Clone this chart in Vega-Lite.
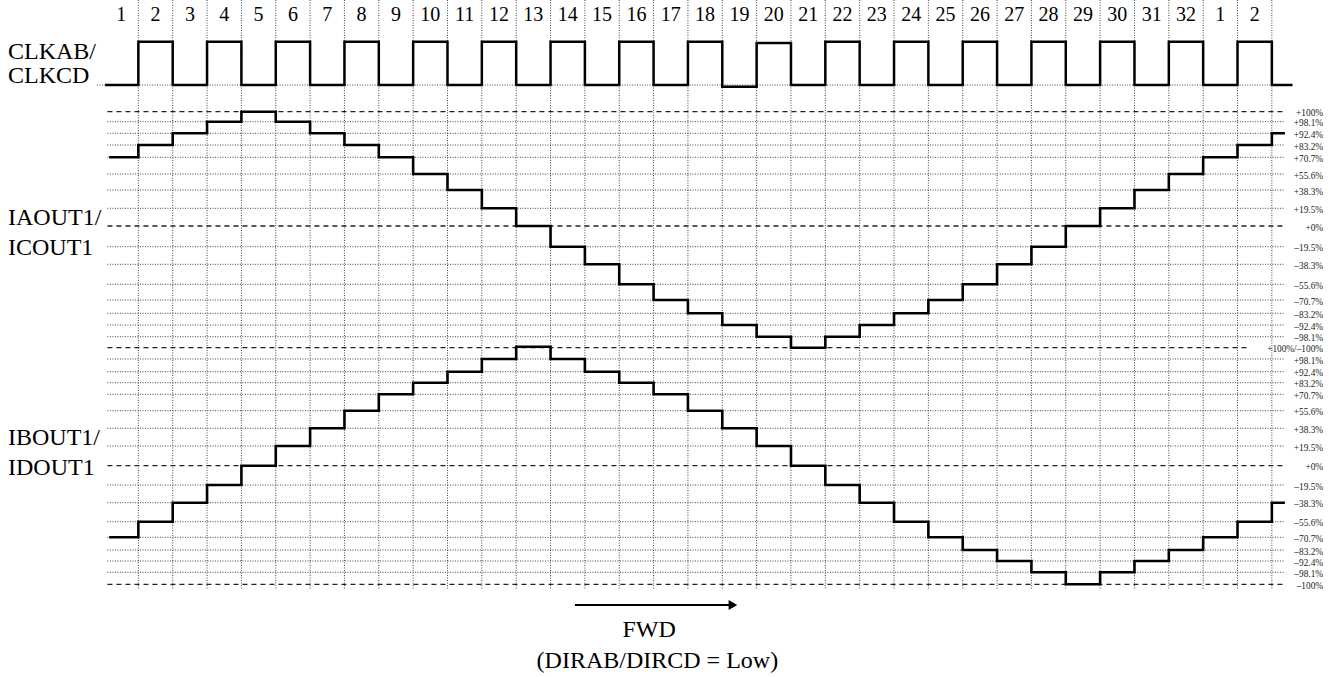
{
  "$schema": "https://vega.github.io/schema/vega-lite/v6.json",
  "width": 1333,
  "height": 590,
  "autosize": {"type": "none"},
  "padding": {"left": 0, "top": 0, "right": 0, "bottom": 87},
  "background": "white",
  "config": {"view": {"stroke": null}, "font": "Liberation Serif", "text": {"font": "Liberation Serif", "color": "black"}},
  "datasets": {
    "clock": [
      {"t": 0.03, "clk": 0}, {"t": 1, "clk": 1}, {"t": 2, "clk": 0}, {"t": 3, "clk": 1}, {"t": 4, "clk": 0},
      {"t": 5, "clk": 1}, {"t": 6, "clk": 0}, {"t": 7, "clk": 1}, {"t": 8, "clk": 0}, {"t": 9, "clk": 1},
      {"t": 10, "clk": 0}, {"t": 11, "clk": 1}, {"t": 12, "clk": 0}, {"t": 13, "clk": 1}, {"t": 14, "clk": 0},
      {"t": 15, "clk": 1}, {"t": 16, "clk": 0}, {"t": 17, "clk": 1}, {"t": 18, "clk": -0.04}, {"t": 19, "clk": 0.97},
      {"t": 20, "clk": 0}, {"t": 21, "clk": 1}, {"t": 22, "clk": 0}, {"t": 23, "clk": 1}, {"t": 24, "clk": 0},
      {"t": 25, "clk": 1}, {"t": 26, "clk": 0}, {"t": 27, "clk": 1}, {"t": 28, "clk": 0}, {"t": 29, "clk": 1},
      {"t": 30, "clk": 0}, {"t": 31, "clk": 1}, {"t": 32, "clk": 0}, {"t": 33, "clk": 1}, {"t": 34, "clk": 0},
      {"t": 34.6, "clk": 0}
    ],
    "cells": [
      {"mid": 0.5, "label": "1"}, {"mid": 1.5, "label": "2"}, {"mid": 2.5, "label": "3"}, {"mid": 3.5, "label": "4"},
      {"mid": 4.5, "label": "5"}, {"mid": 5.5, "label": "6"}, {"mid": 6.5, "label": "7"}, {"mid": 7.5, "label": "8"},
      {"mid": 8.5, "label": "9"}, {"mid": 9.5, "label": "10"}, {"mid": 10.5, "label": "11"}, {"mid": 11.5, "label": "12"},
      {"mid": 12.5, "label": "13"}, {"mid": 13.5, "label": "14"}, {"mid": 14.5, "label": "15"}, {"mid": 15.5, "label": "16"},
      {"mid": 16.5, "label": "17"}, {"mid": 17.5, "label": "18"}, {"mid": 18.5, "label": "19"}, {"mid": 19.5, "label": "20"},
      {"mid": 20.5, "label": "21"}, {"mid": 21.5, "label": "22"}, {"mid": 22.5, "label": "23"}, {"mid": 23.5, "label": "24"},
      {"mid": 24.5, "label": "25"}, {"mid": 25.5, "label": "26"}, {"mid": 26.5, "label": "27"}, {"mid": 27.5, "label": "28"},
      {"mid": 28.5, "label": "29"}, {"mid": 29.5, "label": "30"}, {"mid": 30.5, "label": "31"}, {"mid": 31.5, "label": "32"},
      {"mid": 32.5, "label": "1"}, {"mid": 33.5, "label": "2"}
    ],
    "currents": [
      {"t": 0.15, "ia": 70.7, "ib": -70.7}, {"t": 1, "ia": 83.2, "ib": -55.6}, {"t": 2, "ia": 92.4, "ib": -38.3},
      {"t": 3, "ia": 98.1, "ib": -19.5}, {"t": 4, "ia": 100, "ib": 0}, {"t": 5, "ia": 98.1, "ib": 19.5},
      {"t": 6, "ia": 92.4, "ib": 38.3}, {"t": 7, "ia": 83.2, "ib": 55.6}, {"t": 8, "ia": 70.7, "ib": 70.7},
      {"t": 9, "ia": 55.6, "ib": 83.2}, {"t": 10, "ia": 38.3, "ib": 92.4}, {"t": 11, "ia": 19.5, "ib": 98.1},
      {"t": 12, "ia": 0, "ib": 100}, {"t": 13, "ia": -19.5, "ib": 98.1}, {"t": 14, "ia": -38.3, "ib": 92.4},
      {"t": 15, "ia": -55.6, "ib": 83.2}, {"t": 16, "ia": -70.7, "ib": 70.7}, {"t": 17, "ia": -83.2, "ib": 55.6},
      {"t": 18, "ia": -92.4, "ib": 38.3}, {"t": 19, "ia": -98.1, "ib": 19.5}, {"t": 20, "ia": -100, "ib": 0},
      {"t": 21, "ia": -98.1, "ib": -19.5}, {"t": 22, "ia": -92.4, "ib": -38.3}, {"t": 23, "ia": -83.2, "ib": -55.6},
      {"t": 24, "ia": -70.7, "ib": -70.7}, {"t": 25, "ia": -55.6, "ib": -83.2}, {"t": 26, "ia": -38.3, "ib": -92.4},
      {"t": 27, "ia": -19.5, "ib": -98.1}, {"t": 28, "ia": 0, "ib": -100}, {"t": 29, "ia": 19.5, "ib": -98.1},
      {"t": 30, "ia": 38.3, "ib": -92.4}, {"t": 31, "ia": 55.6, "ib": -83.2}, {"t": 32, "ia": 70.7, "ib": -70.7},
      {"t": 33, "ia": 83.2, "ib": -55.6}, {"t": 34, "ia": 92.4, "ib": -38.3}, {"t": 34.38, "ia": 92.4, "ib": -38.3}
    ],
    "levels": [
      {"v": 100, "kind": "major", "ia": "+100%", "ib": ""},
      {"v": 98.1, "kind": "minor", "ia": "+98.1%", "ib": "+98.1%"},
      {"v": 92.4, "kind": "minor", "ia": "+92.4%", "ib": "+92.4%"},
      {"v": 83.2, "kind": "minor", "ia": "+83.2%", "ib": "+83.2%"},
      {"v": 70.7, "kind": "minor", "ia": "+70.7%", "ib": "+70.7%"},
      {"v": 55.6, "kind": "minor", "ia": "+55.6%", "ib": "+55.6%"},
      {"v": 38.3, "kind": "minor", "ia": "+38.3%", "ib": "+38.3%"},
      {"v": 19.5, "kind": "minor", "ia": "+19.5%", "ib": "+19.5%"},
      {"v": 0, "kind": "major", "ia": "+0%", "ib": "+0%"},
      {"v": -19.5, "kind": "minor", "ia": "–19.5%", "ib": "–19.5%"},
      {"v": -38.3, "kind": "minor", "ia": "–38.3%", "ib": "–38.3%"},
      {"v": -55.6, "kind": "minor", "ia": "–55.6%", "ib": "–55.6%"},
      {"v": -70.7, "kind": "minor", "ia": "–70.7%", "ib": "–70.7%"},
      {"v": -83.2, "kind": "minor", "ia": "–83.2%", "ib": "–83.2%"},
      {"v": -92.4, "kind": "minor", "ia": "–92.4%", "ib": "–92.4%"},
      {"v": -98.1, "kind": "minor", "ia": "–98.1%", "ib": "–98.1%"},
      {"v": -100, "kind": "major", "ia": "+100%/–100%", "ib": "–100%"}
    ]
  },
  "layer": [
    {
      "data": {"name": "clock"},
      "transform": [{"filter": "datum.t >= 1 && datum.t <= 34"}],
      "mark": {"type": "rule", "strokeDash": [1, 1.5], "color": "#444", "strokeWidth": 1},
      "encoding": {
        "x": {"field": "t", "type": "quantitative", "axis": null, "scale": {"domain": [-3.028, 35.78], "nice": false, "zero": false}}
      }
    },
    {
      "layer": [
        {
          "data": {"values": [{}]},
          "mark": {"type": "rule", "strokeDash": [1, 1.5], "color": "#444", "strokeWidth": 1},
          "encoding": {
            "x": {"datum": -0.2, "type": "quantitative", "axis": null, "scale": {"domain": [-3.028, 35.78], "nice": false, "zero": false}},
            "x2": {"datum": 34.38},
            "y": {"datum": 0, "type": "quantitative", "axis": null, "scale": {"domain": [0, 1], "range": [85, 41.7], "nice": false, "zero": false}}
          }
        },
        {
          "data": {"name": "clock"},
          "mark": {"type": "line", "interpolate": "step-after", "color": "black", "strokeWidth": 2.5},
          "encoding": {
            "x": {"field": "t", "type": "quantitative", "axis": null, "scale": {"domain": [-3.028, 35.78], "nice": false, "zero": false}},
            "y": {"field": "clk", "type": "quantitative", "axis": null, "scale": {"domain": [0, 1], "range": [85, 41.7], "nice": false, "zero": false}}
          }
        },
        {
          "data": {"name": "cells"},
          "mark": {"type": "text", "font": "Liberation Serif", "fontSize": 20, "align": "center", "baseline": "alphabetic"},
          "encoding": {
            "x": {"field": "mid", "type": "quantitative", "axis": null, "scale": {"domain": [-3.028, 35.78], "nice": false, "zero": false}},
            "y": {"datum": 1.48, "type": "quantitative", "axis": null, "scale": {"domain": [0, 1], "range": [85, 41.7], "nice": false, "zero": false}},
            "text": {"field": "label"}
          }
        },
        {
          "data": {"values": [{}]},
          "mark": {"type": "text", "text": ["CLKAB/", "CLKCD"], "font": "Liberation Serif", "fontSize": 24, "lineHeight": 24, "align": "left", "baseline": "alphabetic"},
          "encoding": {
            "x": {"datum": -2.795, "type": "quantitative", "axis": null, "scale": {"domain": [-3.028, 35.78], "nice": false, "zero": false}},
            "y": {"datum": 0.6, "type": "quantitative", "axis": null, "scale": {"domain": [0, 1], "range": [85, 41.7], "nice": false, "zero": false}}
          }
        }
      ]
    },
    {
      "layer": [
        {
          "data": {"name": "levels"},
          "transform": [{"filter": "datum.v > -100"}],
          "mark": {"type": "rule"},
          "encoding": {
            "x": {"datum": 0.1, "type": "quantitative", "axis": null, "scale": {"domain": [-3.028, 35.78], "nice": false, "zero": false}},
            "x2": {"datum": 34.38},
            "y": {"field": "v", "type": "quantitative", "axis": null, "scale": {"domain": [-100, -98.1, -92.4, -83.2, -70.7, -55.6, -38.3, -19.5, 0, 19.5, 38.3, 55.6, 70.7, 83.2, 92.4, 98.1, 100], "range": [347.7, 336.7, 325, 313.3, 300, 284.3, 264.3, 246.7, 226, 208.3, 190, 174, 157.3, 145, 133.3, 121.7, 111.7], "nice": false, "zero": false}},
            "strokeDash": {"field": "kind", "type": "nominal", "legend": null, "scale": {"domain": ["major", "minor"], "range": [[5, 4], [1, 1.5]]}},
            "stroke": {"field": "kind", "type": "nominal", "legend": null, "scale": {"domain": ["major", "minor"], "range": ["#222", "#444"]}},
            "strokeWidth": {"field": "kind", "type": "nominal", "legend": null, "scale": {"domain": ["major", "minor"], "range": [1.3, 1]}}
          }
        },
        {
          "data": {"values": [{}]},
          "mark": {"type": "rule", "strokeDash": [5, 4], "color": "#222", "strokeWidth": 1.3},
          "encoding": {
            "x": {"datum": 0.1, "type": "quantitative", "axis": null, "scale": {"domain": [-3.028, 35.78], "nice": false, "zero": false}},
            "x2": {"datum": 33.36},
            "y": {"datum": -100, "type": "quantitative", "axis": null, "scale": {"domain": [-100, -98.1, -92.4, -83.2, -70.7, -55.6, -38.3, -19.5, 0, 19.5, 38.3, 55.6, 70.7, 83.2, 92.4, 98.1, 100], "range": [347.7, 336.7, 325, 313.3, 300, 284.3, 264.3, 246.7, 226, 208.3, 190, 174, 157.3, 145, 133.3, 121.7, 111.7], "nice": false, "zero": false}}
          }
        },
        {
          "data": {"name": "levels"},
          "mark": {"type": "text", "font": "Liberation Serif", "fontSize": 9.3, "align": "right", "baseline": "middle", "dy": 1.5, "color": "#222"},
          "encoding": {
            "x": {"datum": 35.49, "type": "quantitative", "axis": null, "scale": {"domain": [-3.028, 35.78], "nice": false, "zero": false}},
            "y": {"field": "v", "type": "quantitative", "axis": null, "scale": {"domain": [-100, -98.1, -92.4, -83.2, -70.7, -55.6, -38.3, -19.5, 0, 19.5, 38.3, 55.6, 70.7, 83.2, 92.4, 98.1, 100], "range": [347.7, 336.7, 325, 313.3, 300, 284.3, 264.3, 246.7, 226, 208.3, 190, 174, 157.3, 145, 133.3, 121.7, 111.7], "nice": false, "zero": false}},
            "text": {"field": "ia"}
          }
        },
        {
          "data": {"name": "currents"},
          "mark": {"type": "line", "interpolate": "step-after", "color": "black", "strokeWidth": 2.6},
          "encoding": {
            "x": {"field": "t", "type": "quantitative", "axis": null, "scale": {"domain": [-3.028, 35.78], "nice": false, "zero": false}},
            "y": {"field": "ia", "type": "quantitative", "axis": null, "scale": {"domain": [-100, -98.1, -92.4, -83.2, -70.7, -55.6, -38.3, -19.5, 0, 19.5, 38.3, 55.6, 70.7, 83.2, 92.4, 98.1, 100], "range": [347.7, 336.7, 325, 313.3, 300, 284.3, 264.3, 246.7, 226, 208.3, 190, 174, 157.3, 145, 133.3, 121.7, 111.7], "nice": false, "zero": false}}
          }
        },
        {
          "data": {"values": [{}]},
          "mark": {"type": "text", "text": ["IAOUT1/", "ICOUT1"], "font": "Liberation Serif", "fontSize": 24, "lineHeight": 30, "align": "left", "baseline": "alphabetic"},
          "encoding": {
            "x": {"datum": -2.795, "type": "quantitative", "axis": null, "scale": {"domain": [-3.028, 35.78], "nice": false, "zero": false}},
            "y": {"datum": 1, "type": "quantitative", "axis": null, "scale": {"domain": [-100, -98.1, -92.4, -83.2, -70.7, -55.6, -38.3, -19.5, 0, 19.5, 38.3, 55.6, 70.7, 83.2, 92.4, 98.1, 100], "range": [347.7, 336.7, 325, 313.3, 300, 284.3, 264.3, 246.7, 226, 208.3, 190, 174, 157.3, 145, 133.3, 121.7, 111.7], "nice": false, "zero": false}}
          }
        }
      ]
    },
    {
      "layer": [
        {
          "data": {"name": "levels"},
          "transform": [{"filter": "datum.v < 100"}],
          "mark": {"type": "rule"},
          "encoding": {
            "x": {"datum": 0.1, "type": "quantitative", "axis": null, "scale": {"domain": [-3.028, 35.78], "nice": false, "zero": false}},
            "x2": {"datum": 34.38},
            "y": {"field": "v", "type": "quantitative", "axis": null, "scale": {"domain": [-100, -98.1, -92.4, -83.2, -70.7, -55.6, -38.3, -19.5, 0, 19.5, 38.3, 55.6, 70.7, 83.2, 92.4, 98.1, 100], "range": [584.3, 572.3, 561, 550, 537.3, 521.7, 502.7, 485, 465.7, 446, 428.3, 410.7, 394.3, 382.7, 371.7, 359, 346.7], "nice": false, "zero": false}},
            "strokeDash": {"field": "kind", "type": "nominal", "legend": null, "scale": {"domain": ["major", "minor"], "range": [[5, 4], [1, 1.5]]}},
            "stroke": {"field": "kind", "type": "nominal", "legend": null, "scale": {"domain": ["major", "minor"], "range": ["#222", "#444"]}},
            "strokeWidth": {"field": "kind", "type": "nominal", "legend": null, "scale": {"domain": ["major", "minor"], "range": [1.3, 1]}}
          }
        },
        {
          "data": {"name": "levels"},
          "transform": [{"filter": "datum.v < 100"}],
          "mark": {"type": "text", "font": "Liberation Serif", "fontSize": 9.3, "align": "right", "baseline": "middle", "dy": 1.5, "color": "#222"},
          "encoding": {
            "x": {"datum": 35.49, "type": "quantitative", "axis": null, "scale": {"domain": [-3.028, 35.78], "nice": false, "zero": false}},
            "y": {"field": "v", "type": "quantitative", "axis": null, "scale": {"domain": [-100, -98.1, -92.4, -83.2, -70.7, -55.6, -38.3, -19.5, 0, 19.5, 38.3, 55.6, 70.7, 83.2, 92.4, 98.1, 100], "range": [584.3, 572.3, 561, 550, 537.3, 521.7, 502.7, 485, 465.7, 446, 428.3, 410.7, 394.3, 382.7, 371.7, 359, 346.7], "nice": false, "zero": false}},
            "text": {"field": "ib"}
          }
        },
        {
          "data": {"name": "currents"},
          "mark": {"type": "line", "interpolate": "step-after", "color": "black", "strokeWidth": 2.6},
          "encoding": {
            "x": {"field": "t", "type": "quantitative", "axis": null, "scale": {"domain": [-3.028, 35.78], "nice": false, "zero": false}},
            "y": {"field": "ib", "type": "quantitative", "axis": null, "scale": {"domain": [-100, -98.1, -92.4, -83.2, -70.7, -55.6, -38.3, -19.5, 0, 19.5, 38.3, 55.6, 70.7, 83.2, 92.4, 98.1, 100], "range": [584.3, 572.3, 561, 550, 537.3, 521.7, 502.7, 485, 465.7, 446, 428.3, 410.7, 394.3, 382.7, 371.7, 359, 346.7], "nice": false, "zero": false}}
          }
        },
        {
          "data": {"values": [{}]},
          "mark": {"type": "text", "text": ["IBOUT1/", "IDOUT1"], "font": "Liberation Serif", "fontSize": 24, "lineHeight": 30, "align": "left", "baseline": "alphabetic"},
          "encoding": {
            "x": {"datum": -2.795, "type": "quantitative", "axis": null, "scale": {"domain": [-3.028, 35.78], "nice": false, "zero": false}},
            "y": {"datum": 20.6, "type": "quantitative", "axis": null, "scale": {"domain": [-100, -98.1, -92.4, -83.2, -70.7, -55.6, -38.3, -19.5, 0, 19.5, 38.3, 55.6, 70.7, 83.2, 92.4, 98.1, 100], "range": [584.3, 572.3, 561, 550, 537.3, 521.7, 502.7, 485, 465.7, 446, 428.3, 410.7, 394.3, 382.7, 371.7, 359, 346.7], "nice": false, "zero": false}}
          }
        }
      ]
    },
    {
      "layer": [
        {
          "data": {"values": [{}]},
          "mark": {"type": "rule", "color": "black", "strokeWidth": 2},
          "encoding": {
            "x": {"datum": 13.71, "type": "quantitative", "axis": null, "scale": {"domain": [-3.028, 35.78], "nice": false, "zero": false}},
            "x2": {"datum": 18.2},
            "y": {"datum": "arrow", "type": "nominal", "axis": null, "scale": {"type": "point", "domain": ["arrow", "FWD", "DIR"], "range": [605, 668], "padding": 0}}
          }
        },
        {
          "data": {"values": [{}]},
          "mark": {"type": "point", "shape": "triangle-right", "filled": true, "size": 100, "color": "black", "opacity": 1},
          "encoding": {
            "x": {"datum": 18.31, "type": "quantitative", "axis": null, "scale": {"domain": [-3.028, 35.78], "nice": false, "zero": false}},
            "y": {"datum": "arrow", "type": "nominal", "axis": null, "scale": {"type": "point", "domain": ["arrow", "FWD", "DIR"], "range": [605, 668], "padding": 0}}
          }
        },
        {
          "data": {"values": [{}]},
          "mark": {"type": "text", "text": "FWD", "font": "Liberation Serif", "fontSize": 24, "align": "center", "baseline": "alphabetic"},
          "encoding": {
            "x": {"datum": 15.87, "type": "quantitative", "axis": null, "scale": {"domain": [-3.028, 35.78], "nice": false, "zero": false}},
            "y": {"datum": "FWD", "type": "nominal", "axis": null, "scale": {"type": "point", "domain": ["arrow", "FWD", "DIR"], "range": [605, 668], "padding": 0}}
          }
        },
        {
          "data": {"values": [{}]},
          "mark": {"type": "text", "text": "(DIRAB/DIRCD = Low)", "font": "Liberation Serif", "fontSize": 24, "align": "center", "baseline": "alphabetic"},
          "encoding": {
            "x": {"datum": 16.11, "type": "quantitative", "axis": null, "scale": {"domain": [-3.028, 35.78], "nice": false, "zero": false}},
            "y": {"datum": "DIR", "type": "nominal", "axis": null, "scale": {"type": "point", "domain": ["arrow", "FWD", "DIR"], "range": [605, 668], "padding": 0}}
          }
        }
      ]
    }
  ],
  "resolve": {"scale": {"y": "independent"}}
}
